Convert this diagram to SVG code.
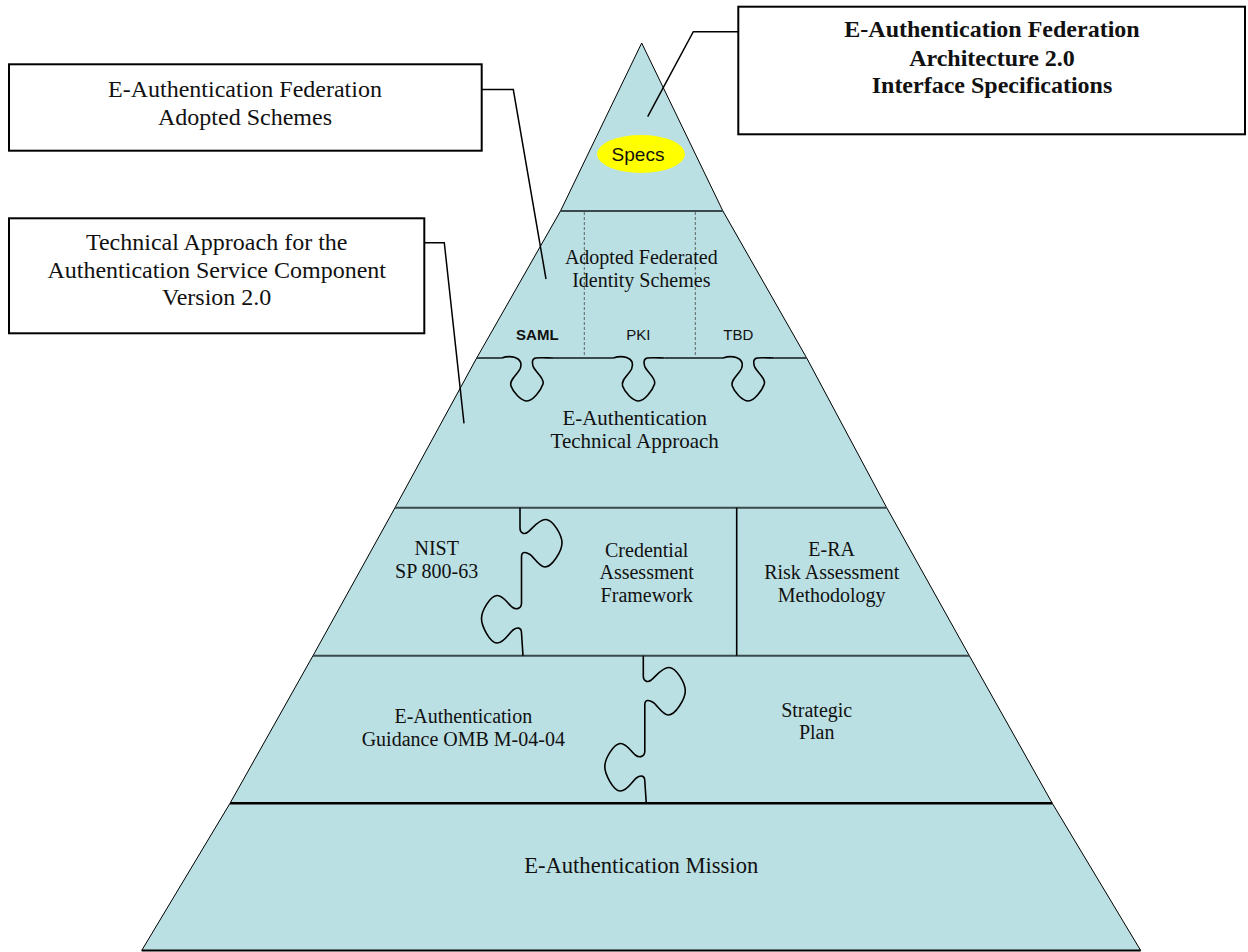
<svg xmlns="http://www.w3.org/2000/svg" xmlns:xlink="http://www.w3.org/1999/xlink" width="1248" height="952" viewBox="0 0 1248 952">
<style>
.band{fill:#BBE0E3;stroke:none}
.edge{fill:none;stroke:#000;stroke-width:1}
.sep{fill:none;stroke:#3a4a4c;stroke-width:2}
.puz{fill:none;stroke:#000;stroke-width:1.6;stroke-linejoin:round}
.dash{stroke:#444;stroke-width:0.8;stroke-dasharray:3,2}
.box{fill:#fff;stroke:#000;stroke-width:2}
.conn{fill:none;stroke:#000;stroke-width:1.5}
.t{font-family:"Liberation Serif","Times New Roman",serif;fill:#111;text-anchor:middle}
.s{font-family:"Liberation Sans",Arial,sans-serif;fill:#111;text-anchor:middle}
</style>
<defs>
<path id="notch" d="M501.7,358 C506,356.5 512,356.5 515,357.5 C521,359.5 522,364 520,369 C517,375 509,380 511,386 C513,392 521,401 527,401 C533,401 541,390 543,384 C545,378 535,372 533,366 C532,362 532,358.5 536,358 C541,357.5 548,358 553,358"/>
<path id="vpuz" d="M520,507.7 L520,528 C520,533 524,535 528,532 C533,528 539,519 546,519.5 C553,520 562,535 562,543 C562,551 552,567 545,567 C539,567 534,557 530,554.5 C526,552 521.5,551 521.5,557 L521.5,603 C521.5,609 516,610 512,607 C507,603 503,595 497,595.5 C490,596 481.5,611 481.5,618.5 C481.5,626 490,643 497,643 C504,643 509,633 513,630 C517,627 521.5,627 521.5,633 L523,655.7"/>
</defs>

<g id="pyramid">
  <polygon class="band" points="641.7,43 560.5,211 722.9,211"/>
  <polygon class="band" points="560.5,210 722.9,210 806.7,358 476.7,358"/>
  <polygon class="band" points="476.7,357 806.7,357 886.7,507.7 395,507.7"/>
  <polygon class="band" points="395,507 886.7,507 969.3,655.7 313,655.7"/>
  <polygon class="band" points="313,655 969.3,655 1052.3,803.3 230,803.3"/>
  <polygon class="band" points="230,803 1052.3,803 1140.7,950.5 141.7,950.5"/>
  <polyline class="edge" points="641.7,43 560.5,211 476.7,358 395,507.7 313,655.7 230,803.3 141.7,950.5"/>
  <polyline class="edge" points="641.7,43 722.9,211 806.7,358 886.7,507.7 969.3,655.7 1052.3,803.3 1140.7,950.5"/>
  <line class="sep" x1="560.5" y1="211" x2="722.9" y2="211"/>
  <line class="dash" x1="584.3" y1="212" x2="584.3" y2="358"/>
  <line class="dash" x1="695.3" y1="212" x2="695.3" y2="358"/>
  <path class="sep" d="M476.7,358 H501.7 M553,358 H613.3 M664.6,358 H723 M774.3,358 H806.7"/>
  <use xlink:href="#notch" class="puz"/>
  <use xlink:href="#notch" class="puz" transform="translate(111.6,0)"/>
  <use xlink:href="#notch" class="puz" transform="translate(221.3,0)"/>
  <line class="sep" x1="395" y1="507.7" x2="886.7" y2="507.7"/>
  <line class="sep" x1="313" y1="655.7" x2="969.3" y2="655.7"/>
  <line x1="230" y1="803.3" x2="1052.3" y2="803.3" stroke="#000" stroke-width="2.5"/>
  <line x1="141.7" y1="950.5" x2="1140.7" y2="950.5" stroke="#000" stroke-width="2"/>
  <line x1="736.7" y1="507.7" x2="736.7" y2="655.7" stroke="#000" stroke-width="1.6"/>
  <use xlink:href="#vpuz" class="puz"/>
  <use xlink:href="#vpuz" class="puz" transform="translate(123.3,148)"/>
</g>

<g id="specs">
  <ellipse cx="641" cy="154" rx="44" ry="19" fill="#FFFF00"/>
  <text class="s" x="638" y="161" font-size="19">Specs</text>
</g>
<g id="adopted-schemes">
  <text class="t" x="641.3" y="264" font-size="20">Adopted Federated</text>
  <text class="t" x="641.3" y="287.3" font-size="20">Identity Schemes</text>
  <text class="s" x="537.3" y="340" font-size="15" font-weight="bold">SAML</text>
  <text class="s" x="638.3" y="340" font-size="15">PKI</text>
  <text class="s" x="738.3" y="340" font-size="15">TBD</text>
</g>
<g id="technical-approach">
  <text class="t" x="634.7" y="425" font-size="21">E-Authentication</text>
  <text class="t" x="634.7" y="448.3" font-size="21">Technical Approach</text>
</g>
<g id="nist">
  <text class="t" x="436.7" y="555" font-size="20">NIST</text>
  <text class="t" x="436.7" y="578.3" font-size="20">SP 800-63</text>
</g>
<g id="caf">
  <text class="t" x="646.7" y="556.7" font-size="20">Credential</text>
  <text class="t" x="646.7" y="579" font-size="20">Assessment</text>
  <text class="t" x="646.7" y="601.7" font-size="20">Framework</text>
</g>
<g id="era">
  <text class="t" x="831.7" y="556" font-size="20">E-RA</text>
  <text class="t" x="831.7" y="579" font-size="20">Risk Assessment</text>
  <text class="t" x="831.7" y="602.3" font-size="20">Methodology</text>
</g>
<g id="guidance">
  <text class="t" x="463.3" y="722.7" font-size="20">E-Authentication</text>
  <text class="t" x="463.3" y="745.7" font-size="20">Guidance OMB M-04-04</text>
</g>
<g id="strategic-plan">
  <text class="t" x="816.7" y="716.7" font-size="20">Strategic</text>
  <text class="t" x="816.7" y="739.3" font-size="20">Plan</text>
</g>
<g id="mission">
  <text class="t" x="641.2" y="872.7" font-size="22.6">E-Authentication Mission</text>
</g>

<g id="connectors">
  <polyline class="conn" points="738.3,31.7 693.3,31.7 647.7,116.7"/>
  <polyline class="conn" points="481.7,89.5 513.3,89.5 546,279"/>
  <polyline class="conn" points="424.3,242.7 444.3,242.7 464,423.3"/>
</g>

<g id="box-architecture">
  <rect class="box" x="738.3" y="6.7" width="506.7" height="127.6"/>
  <text class="t" x="992" y="37.3" font-size="24" font-weight="bold">E-Authentication Federation</text>
  <text class="t" x="992" y="65.7" font-size="24" font-weight="bold">Architecture 2.0</text>
  <text class="t" x="992" y="93.3" font-size="24" font-weight="bold">Interface Specifications</text>
</g>
<g id="box-adopted">
  <rect class="box" x="9" y="64.3" width="472.7" height="86.4"/>
  <text class="t" x="245" y="96.7" font-size="24">E-Authentication Federation</text>
  <text class="t" x="245" y="125" font-size="24">Adopted Schemes</text>
</g>
<g id="box-technical">
  <rect class="box" x="9" y="218.3" width="415.3" height="115"/>
  <text class="t" x="216.7" y="250" font-size="24">Technical Approach for the</text>
  <text class="t" x="216.7" y="277.7" font-size="24">Authentication Service Component</text>
  <text class="t" x="216.7" y="305" font-size="24">Version 2.0</text>
</g>
</svg>
